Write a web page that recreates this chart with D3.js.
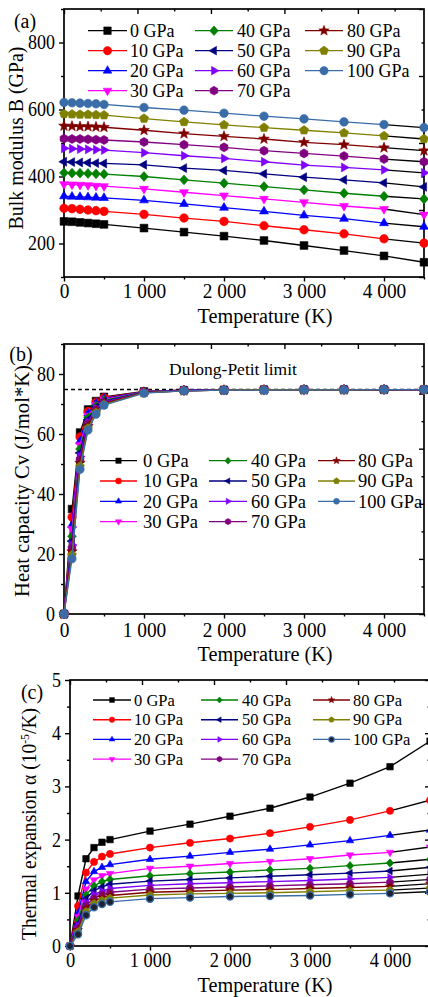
<!DOCTYPE html>
<html><head><meta charset="utf-8">
<script src="https://cdn.jsdelivr.net/npm/d3@7"></script>
<style>
body{margin:0;background:#fff}
svg{display:block}
text{font-family:"Liberation Serif","Times New Roman",serif;fill:#000}
</style>
</head><body>
<svg id="chart" width="428" height="997"></svg>
<script>
// ---------------- DATA ----------------
const temperatures = [0,100,200,300,400,500,1000,1500,2000,2500,3000,3500,4000,4500];
const pressureLabels = ["0 GPa","10 GPa","20 GPa","30 GPa","40 GPa","50 GPa","60 GPa","70 GPa","80 GPa","90 GPa","100 GPa"];
const seriesColors = ["#000000","#ff0000","#0000ff","#ff00ff","#008000","#000080","#8000ff","#800080","#800000","#808000","#3a6da8"];
const seriesShapes = ["square","circle","triUp","triDown","diamond","triLeft","triRight","hexagon","star","pentagon","circle"];
const xTickValues = [0,1000,2000,3000,4000];

// (a) Bulk modulus B (GPa)
const bulk0   = [266,265,263,261,259,257,246,234,222,209,194,179,163,144];
const bulk10  = [305,304,302,300,298,296,287,276,266,253,241,229,214,201];
const bulk20  = [341,340,339,338,337,336,329,318,307,296,284,274,261,250];
const bulk30  = [377,376,375,374,372,371,363,353,343,333,323,312,303,286];
const bulk40  = [411,410,410,409,408,407,400,390,380,370,360,350,341,333];
const bulk50  = [444,443,442,441,440,439,435,425,418,408,398,390,381,369];
const bulk60  = [484,483,482,481,480,479,471,462,454,444,434,427,420,411];
const bulk70  = [513,512,512,511,510,509,503,495,487,477,469,461,452,444];
const bulk80  = [551,550,549,549,548,547,538,528,520,512,502,495,486,477];
const bulk90  = [587,586,585,585,584,583,573,563,554,546,538,530,521,512];
const bulk100 = [621,620,619,618,617,615,606,598,589,580,572,563,555,546];
const bulkTicks = [200,400,600,800];

// (b) Heat capacity Cv (J/mol*K)
const cv0   = [0,35.0,60.5,68.2,71.0,72.4,74.2,74.6,74.7,74.8,74.8,74.8,74.8,74.8];
const cv10  = [0,32.3,59.0,67.5,70.6,72.1,74.1,74.6,74.7,74.8,74.8,74.8,74.8,74.8];
const cv20  = [0,29.7,57.6,66.8,70.2,71.8,74.1,74.6,74.7,74.7,74.8,74.8,74.8,74.8];
const cv30  = [0,28.3,56.3,66.1,69.7,71.5,74.0,74.5,74.7,74.7,74.8,74.8,74.8,74.8];
const cv40  = [0,25.9,55.0,65.4,69.3,71.2,74.0,74.5,74.7,74.7,74.8,74.8,74.8,74.8];
const cv50  = [0,24.3,53.7,64.7,68.9,70.9,73.9,74.5,74.6,74.7,74.8,74.8,74.8,74.8];
const cv60  = [0,23.0,52.5,64.0,68.5,70.6,73.9,74.5,74.6,74.7,74.7,74.8,74.8,74.8];
const cv70  = [0,21.9,51.4,63.3,68.0,70.4,73.8,74.4,74.6,74.7,74.7,74.8,74.8,74.8];
const cv80  = [0,20.8,50.3,62.6,67.6,70.1,73.8,74.4,74.6,74.7,74.7,74.7,74.8,74.8];
const cv90  = [0,19.7,49.2,61.9,67.1,69.8,73.7,74.4,74.6,74.7,74.7,74.7,74.8,74.8];
const cv100 = [0,18.4,48.2,61.3,66.6,69.6,73.6,74.4,74.6,74.6,74.7,74.7,74.8,74.8];
const cvTicks = [0,20,40,60,80];
const dulongPetit = 74.83;

// (c) Thermal expansion alpha (1e-5 /K)
const alpha0   = [0,0.94,1.64,1.85,1.95,2.00,2.16,2.29,2.44,2.59,2.80,3.06,3.37,3.85];
const alpha10  = [0,0.75,1.38,1.58,1.68,1.73,1.85,1.94,2.02,2.12,2.24,2.37,2.54,2.74];
const alpha20  = [0,0.62,1.21,1.40,1.48,1.53,1.63,1.69,1.76,1.82,1.90,1.98,2.08,2.18];
const alpha30  = [0,0.55,1.07,1.24,1.32,1.36,1.46,1.50,1.55,1.59,1.64,1.71,1.76,1.86];
const alpha40  = [0,0.48,0.96,1.13,1.21,1.25,1.32,1.36,1.39,1.43,1.46,1.51,1.56,1.63];
const alpha50  = [0,0.42,0.89,1.04,1.11,1.16,1.22,1.25,1.28,1.31,1.34,1.37,1.41,1.48];
const alpha60  = [0,0.38,0.82,0.97,1.03,1.08,1.14,1.17,1.19,1.21,1.23,1.26,1.29,1.35];
const alpha70  = [0,0.34,0.76,0.90,0.97,1.01,1.07,1.09,1.11,1.13,1.15,1.17,1.20,1.25];
const alpha80  = [0,0.30,0.70,0.85,0.91,0.95,1.01,1.03,1.05,1.06,1.08,1.10,1.12,1.17];
const alpha90  = [0,0.27,0.65,0.80,0.86,0.90,0.96,0.98,0.99,1.00,1.02,1.04,1.05,1.09];
const alpha100 = [0,0.22,0.58,0.73,0.79,0.83,0.89,0.91,0.93,0.94,0.95,0.97,0.99,1.02];
const alphaTicks = [0,1,2,3,4,5];

const bulkSeries  = [bulk0,bulk10,bulk20,bulk30,bulk40,bulk50,bulk60,bulk70,bulk80,bulk90,bulk100];
const cvSeries    = [cv0,cv10,cv20,cv30,cv40,cv50,cv60,cv70,cv80,cv90,cv100];
const alphaSeries = [alpha0,alpha10,alpha20,alpha30,alpha40,alpha50,alpha60,alpha70,alpha80,alpha90,alpha100];

// ---------------- HELPERS ----------------
const svg = d3.select("#chart");
const SERIF = '"Liberation Serif","Times New Roman",serif';

function polygon(n, r, rotDeg, sx = 1, sy = 1) {
  const pts = [];
  for (let i = 0; i < n; i++) {
    const a = (rotDeg + i * 360 / n) * Math.PI / 180;
    pts.push([Math.cos(a) * r * sx, Math.sin(a) * r * sy]);
  }
  return "M" + pts.map(p => p[0].toFixed(2) + "," + p[1].toFixed(2)).join("L") + "Z";
}
function shapePath(type, r) {
  switch (type) {
    case "square": { const s = r * 0.9; return `M${-s},${-s}H${s}V${s}H${-s}Z`; }
    case "circle": return `M${r},0A${r},${r} 0 1,1 ${-r},0A${r},${r} 0 1,1 ${r},0Z`;
    case "triUp": return polygon(3, r * 1.2, -90);
    case "triDown": return polygon(3, r * 1.2, 90);
    case "triLeft": return polygon(3, r * 1.2, 180);
    case "triRight": return polygon(3, r * 1.2, 0);
    case "diamond": return polygon(4, r * 1.15, -90, 0.9, 1);
    case "hexagon": return polygon(6, r * 1.05, -90);
    case "pentagon": return polygon(5, r * 1.1, -90);
    case "star": {
      const pts = [];
      for (let i = 0; i < 10; i++) {
        const a = (-90 + i * 36) * Math.PI / 180;
        const rr = i % 2 === 0 ? r * 1.3 : r * 0.55;
        pts.push([Math.cos(a) * rr, Math.sin(a) * rr]);
      }
      return "M" + pts.map(p => p[0].toFixed(2) + "," + p[1].toFixed(2)).join("L") + "Z";
    }
  }
}
const fmtX = d => d === 0 ? "0" : d3.format(",")(d).replace(",", " ");
const fmtY = d3.format("d");

function drawPanel(cfg) {
  const g = svg.append("g");
  const x = d3.scaleLinear().domain([0, 4500]).range([cfg.l, cfg.r]);
  const y = d3.scaleLinear().domain(cfg.yDom).range([cfg.b, cfg.t]);
  const xTop = d3.scaleLinear().domain([0, cfg.topMax]).range([cfg.l, cfg.r]);
  const yRight = d3.scaleLinear().domain(cfg.rightDom).range([cfg.b, cfg.t]);

  // minor ticks
  const xMinor = [500,1500,2500,3500,4500];
  g.append("g").attr("transform", `translate(0,${cfg.b})`)
    .call(d3.axisBottom(x).tickValues(xMinor).tickSize(2.5).tickFormat(""));
  const yMinor = [];
  for (let v = cfg.yDom[0]; v <= cfg.yDom[1] + 1e-9; v += cfg.yMinorStep) {
    if (!cfg.yTicks.some(t => Math.abs(t - v) < 1e-9)) yMinor.push(+v.toFixed(4));
  }
  g.append("g").attr("transform", `translate(${cfg.l},0)`)
    .call(d3.axisLeft(y).tickValues(yMinor).tickSize(3).tickFormat(""));

  // major bottom
  const bx = g.append("g").attr("transform", `translate(0,${cfg.b})`)
    .call(d3.axisBottom(x).tickValues(xTickValues).tickSize(4.5).tickPadding(cfg.xPad).tickFormat(fmtX));
  bx.attr("font-family", null).attr("font-size", null);
  bx.selectAll("text").style("font-family", SERIF).style("font-size", cfg.xFs + "px")
    .attr("transform", "scale(0.88,1)");
  // major left
  const ly = g.append("g").attr("transform", `translate(${cfg.l},0)`)
    .call(d3.axisLeft(y).tickValues(cfg.yTicks).tickSize(5).tickPadding(5).tickFormat(fmtY));
  ly.attr("font-family", null).attr("font-size", null);
  ly.selectAll("text").style("font-family", SERIF).style("font-size", "20px")
    .attr("transform", "scale(0.9,1)");

  // top ticks (inward)
  const topVals = d3.range(0, cfg.topMax + 1, 500);
  g.append("g").attr("transform", `translate(0,${cfg.t})`)
    .call(d3.axisTop(xTop).tickValues(topVals.filter(v => v % 1000 === 0)).tickSize(-5).tickFormat(""));
  g.append("g").attr("transform", `translate(0,${cfg.t})`)
    .call(d3.axisTop(xTop).tickValues(topVals.filter(v => v % 1000 !== 0)).tickSize(-2.5).tickFormat(""));
  // right ticks (inward)
  const rMaj = [], rMin = [];
  for (let v = cfg.rightDom[0]; v <= cfg.rightDom[1] + 1e-9; v += cfg.rightStep / 2) {
    const k = Math.round((v - cfg.rightDom[0]) / (cfg.rightStep / 2));
    (k % 2 === 0 ? rMaj : rMin).push(v);
  }
  g.append("g").attr("transform", `translate(${cfg.r},0)`)
    .call(d3.axisRight(yRight).tickValues(rMaj).tickSize(-5).tickFormat(""));
  g.append("g").attr("transform", `translate(${cfg.r},0)`)
    .call(d3.axisRight(yRight).tickValues(rMin).tickSize(-2.5).tickFormat(""));

  g.selectAll(".domain").remove();
  g.selectAll(".tick line").attr("stroke", "#000").attr("stroke-width", 1.4);

  // frame
  g.append("rect").attr("x", cfg.l).attr("y", cfg.t)
    .attr("width", cfg.r - cfg.l).attr("height", cfg.b - cfg.t)
    .attr("fill", "none").attr("stroke", "#000").attr("stroke-width", 1.7);

  if (cfg.extra) cfg.extra(g, x, y);

  // series
  const line = d3.line().x(d => x(d[0])).y(d => y(d[1]));
  cfg.series.forEach((vals, i) => {
    const pts = temperatures.map((t, j) => [t, vals[j]]);
    const n = pts.length;
    const col = seriesColors[i];
    if (cfg.blackTail) {
      g.append("path").attr("d", line(pts.slice(0, n - 1))).attr("fill", "none")
        .attr("stroke", col).attr("stroke-width", cfg.lw);
      g.append("path").attr("d", line(pts.slice(n - 2))).attr("fill", "none")
        .attr("stroke", "#000").attr("stroke-width", cfg.lw);
    } else {
      g.append("path").attr("d", line(pts)).attr("fill", "none")
        .attr("stroke", col).attr("stroke-width", cfg.lw);
    }
    const fill = (cfg.darkLast && i === 10) ? "#1e2230" : col;
    g.selectAll(null).data(pts).enter().append("path")
      .attr("transform", d => `translate(${x(d[0])},${y(d[1])})`)
      .attr("d", shapePath(seriesShapes[i], cfg.mr))
      .attr("fill", fill).attr("stroke", col).attr("stroke-width", (cfg.darkLast && i === 10) ? 1.3 : 0.6);
  });

  // legend
  const L = cfg.legend;
  pressureLabels.forEach((lab, i) => {
    const c = Math.floor(i / 4), r = i % 4;
    const [x0, x1, tx] = L.cols[c];
    const yy = L.y0 + r * L.dy;
    const col = seriesColors[i];
    g.append("line").attr("x1", x0).attr("x2", x1).attr("y1", yy).attr("y2", yy)
      .attr("stroke", col).attr("stroke-width", cfg.lw);
    const fill = (cfg.darkLast && i === 10) ? "#1e2230" : col;
    g.append("path").attr("transform", `translate(${(x0 + x1) / 2},${yy})`)
      .attr("d", shapePath(seriesShapes[i], L.mr))
      .attr("fill", fill).attr("stroke", col).attr("stroke-width", (cfg.darkLast && i === 10) ? 1.1 : 0.5);
    g.append("text").attr("x", tx).attr("y", yy).attr("dy", "0.35em")
      .attr("font-size", L.fs).text(lab);
  });

  // axis titles
  g.append("text").attr("x", 265).attr("y", cfg.xTitleY).attr("text-anchor", "middle")
    .attr("font-size", 20.5).attr("textLength", 135).attr("lengthAdjust", "spacingAndGlyphs")
    .text("Temperature (K)");
  const yt = g.append("text")
    .attr("transform", `translate(${cfg.yTitleX},${cfg.yTitleY}) rotate(-90)`)
    .attr("text-anchor", "middle").attr("font-size", 20)
    .attr("textLength", cfg.yTitleLen).attr("lengthAdjust", "spacingAndGlyphs");
  cfg.yTitle(yt);

  g.append("text").attr("x", cfg.labX).attr("y", cfg.labY).attr("text-anchor", "middle")
    .attr("font-size", 20).text(cfg.label);
}

// ---------------- PANELS ----------------
drawPanel({
  l: 64, r: 424, t: 9, b: 277, yDom: [100, 900], yTicks: bulkTicks, yMinorStep: 100,
  topMax: 4900, rightDom: [100, 900], rightStep: 200, xPad: 1, xFs: 22,
  series: bulkSeries, blackTail: true, lw: 1.3, mr: 4.3,
  legend: { y0: 30.7, dy: 20, fs: 18, mr: 4.2, cols: [[88,127,130],[195,233,237],[305,343,347]] },
  xTitleY: 323, yTitleX: 23, yTitleY: 138, yTitleLen: 183,
  yTitle: t => t.text("Bulk modulus B (GPa)"),
  label: "(a)", labX: 25, labY: 28
});

drawPanel({
  l: 64, r: 424, t: 344, b: 614, yDom: [0, 90], yTicks: cvTicks, yMinorStep: 10,
  topMax: 4900, rightDom: [0, 98], rightStep: 20, xPad: 3, xFs: 22,
  series: cvSeries, blackTail: false, lw: 1.3, mr: 4.2,
  legend: { y0: 460.7, dy: 20.3, fs: 18.5, mr: 3.0, cols: [[100,137,143],[209,247,251],[318,355,358]] },
  xTitleY: 661, yTitleX: 29, yTitleY: 481, yTitleLen: 232,
  yTitle: t => t.text("Heat capacity Cv (J/mol*K)"),
  label: "(b)", labX: 21, labY: 361,
  extra: (g, x, y) => {
    g.append("line").attr("x1", x(0)).attr("x2", x(4500))
      .attr("y1", y(dulongPetit)).attr("y2", y(dulongPetit))
      .attr("stroke", "#000").attr("stroke-width", 1.3).attr("stroke-dasharray", "4,3");
    g.append("text").attr("x", 233).attr("y", 375).attr("text-anchor", "middle")
      .attr("font-size", 17.5).text("Dulong-Petit limit");
  }
});

drawPanel({
  l: 70, r: 430, t: 680, b: 946, yDom: [0, 5], yTicks: alphaTicks, yMinorStep: 0.5,
  topMax: 5000, rightDom: [0, 5], rightStep: 1, xPad: 2, xFs: 21,
  series: alphaSeries, blackTail: true, lw: 1.4, mr: 3.6, darkLast: true,
  legend: { y0: 700, dy: 19.7, fs: 16.5, mr: 2.7, cols: [[93,131,134],[201,238,242],[313,350,353]] },
  xTitleY: 992, yTitleX: 36, yTitleY: 824, yTitleLen: 232,
  yTitle: t => {
    t.append("tspan").text("Thermal expansion  \u03b1 (10");
    t.append("tspan").attr("dy", -7).attr("font-size", 12).text("-5");
    t.append("tspan").attr("dy", 7).text("/K)");
  },
  label: "(c)", labX: 32, labY: 699
});
</script>
</body></html>
